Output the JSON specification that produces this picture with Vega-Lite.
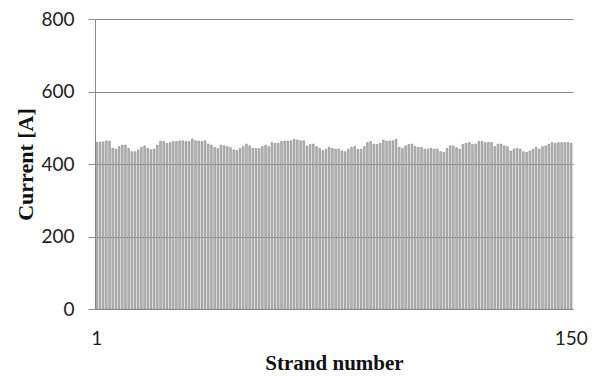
{
  "$schema": "https://vega.github.io/schema/vega-lite/v6.json",
  "width": 478,
  "height": 290,
  "autosize": "none",
  "padding": {"left": 95, "top": 19, "right": 25, "bottom": 67},
  "background": "white",
  "config": {"view": {"stroke": null}},
  "data": {"values": [
    {"s":1,"v":460},{"s":2,"v":460},{"s":3,"v":461},{"s":4,"v":464},{"s":5,"v":463},{"s":6,"v":443},{"s":7,"v":441},{"s":8,"v":448},{"s":9,"v":452},{"s":10,"v":452},
    {"s":11,"v":443},{"s":12,"v":434},{"s":13,"v":434},{"s":14,"v":439},{"s":15,"v":446},{"s":16,"v":450},{"s":17,"v":443},{"s":18,"v":439},{"s":19,"v":441},{"s":20,"v":452},
    {"s":21,"v":463},{"s":22,"v":462},{"s":23,"v":457},{"s":24,"v":459},{"s":25,"v":462},{"s":26,"v":462},{"s":27,"v":464},{"s":28,"v":464},{"s":29,"v":462},{"s":30,"v":462},
    {"s":31,"v":469},{"s":32,"v":464},{"s":33,"v":463},{"s":34,"v":462},{"s":35,"v":464},{"s":36,"v":455},{"s":37,"v":452},{"s":38,"v":446},{"s":39,"v":443},{"s":40,"v":452},
    {"s":41,"v":450},{"s":42,"v":448},{"s":43,"v":445},{"s":44,"v":439},{"s":45,"v":437},{"s":46,"v":443},{"s":47,"v":448},{"s":48,"v":455},{"s":49,"v":450},{"s":50,"v":443},
    {"s":51,"v":443},{"s":52,"v":443},{"s":53,"v":448},{"s":54,"v":452},{"s":55,"v":448},{"s":56,"v":459},{"s":57,"v":457},{"s":58,"v":457},{"s":59,"v":462},{"s":60,"v":463},
    {"s":61,"v":463},{"s":62,"v":464},{"s":63,"v":468},{"s":64,"v":466},{"s":65,"v":464},{"s":66,"v":464},{"s":67,"v":450},{"s":68,"v":454},{"s":69,"v":455},{"s":70,"v":448},
    {"s":71,"v":443},{"s":72,"v":437},{"s":73,"v":441},{"s":74,"v":446},{"s":75,"v":443},{"s":76,"v":441},{"s":77,"v":441},{"s":78,"v":436},{"s":79,"v":434},{"s":80,"v":441},
    {"s":81,"v":446},{"s":82,"v":448},{"s":83,"v":441},{"s":84,"v":441},{"s":85,"v":448},{"s":86,"v":459},{"s":87,"v":462},{"s":88,"v":455},{"s":89,"v":454},{"s":90,"v":457},
    {"s":91,"v":466},{"s":92,"v":463},{"s":93,"v":463},{"s":94,"v":464},{"s":95,"v":468},{"s":96,"v":446},{"s":97,"v":443},{"s":98,"v":450},{"s":99,"v":454},{"s":100,"v":455},
    {"s":101,"v":448},{"s":102,"v":446},{"s":103,"v":446},{"s":104,"v":441},{"s":105,"v":441},{"s":106,"v":443},{"s":107,"v":441},{"s":108,"v":441},{"s":109,"v":434},{"s":110,"v":432},
    {"s":111,"v":443},{"s":112,"v":450},{"s":113,"v":450},{"s":114,"v":445},{"s":115,"v":441},{"s":116,"v":454},{"s":117,"v":457},{"s":118,"v":459},{"s":119,"v":454},{"s":120,"v":455},
    {"s":121,"v":462},{"s":122,"v":462},{"s":123,"v":459},{"s":124,"v":460},{"s":125,"v":459},{"s":126,"v":448},{"s":127,"v":455},{"s":128,"v":455},{"s":129,"v":450},{"s":130,"v":448},
    {"s":131,"v":436},{"s":132,"v":441},{"s":133,"v":443},{"s":134,"v":441},{"s":135,"v":434},{"s":136,"v":432},{"s":137,"v":436},{"s":138,"v":441},{"s":139,"v":446},{"s":140,"v":441},
    {"s":141,"v":448},{"s":142,"v":450},{"s":143,"v":455},{"s":144,"v":459},{"s":145,"v":457},{"s":146,"v":459},{"s":147,"v":459},{"s":148,"v":459},{"s":149,"v":459},{"s":150,"v":457}
  ]},
  "mark": {"type": "bar", "fill": "#b8b8b8", "stroke": "#6e6e6e", "strokeWidth": 0.45},
  "encoding": {
    "x": {
      "field": "s", "type": "ordinal",
      "scale": {"paddingInner": 0.45, "paddingOuter": 0.3},
      "axis": {
        "values": [1, 150], "labelAngle": 0, "ticks": false, "tickSize": 0,
        "labelPadding": 20, "labelFont": "Lato", "labelFontSize": 19, "labelColor": "#222",
        "domainColor": "#8c8c8c", "grid": false,
        "title": "Strand number", "titleFont": "Liberation Serif", "titleFontSize": 21,
        "titleFontWeight": "bold", "titleColor": "#111", "titleY": 54, "titleBaseline": "middle"
      }
    },
    "y": {
      "field": "v", "type": "quantitative",
      "scale": {"domain": [0, 800]},
      "axis": {
        "values": [0, 200, 400, 600, 800], "grid": true, "gridColor": "#8c8c8c",
        "tickColor": "#8c8c8c", "tickSize": 7, "domainColor": "#8c8c8c",
        "labelPadding": 14, "labelFont": "Lato", "labelFontSize": 19, "labelColor": "#222",
        "title": "Current [A]", "titleFont": "Liberation Serif", "titleFontSize": 22,
        "titleFontWeight": "bold", "titleColor": "#111", "titleX": -70, "titleBaseline": "middle"
      }
    }
  }
}
